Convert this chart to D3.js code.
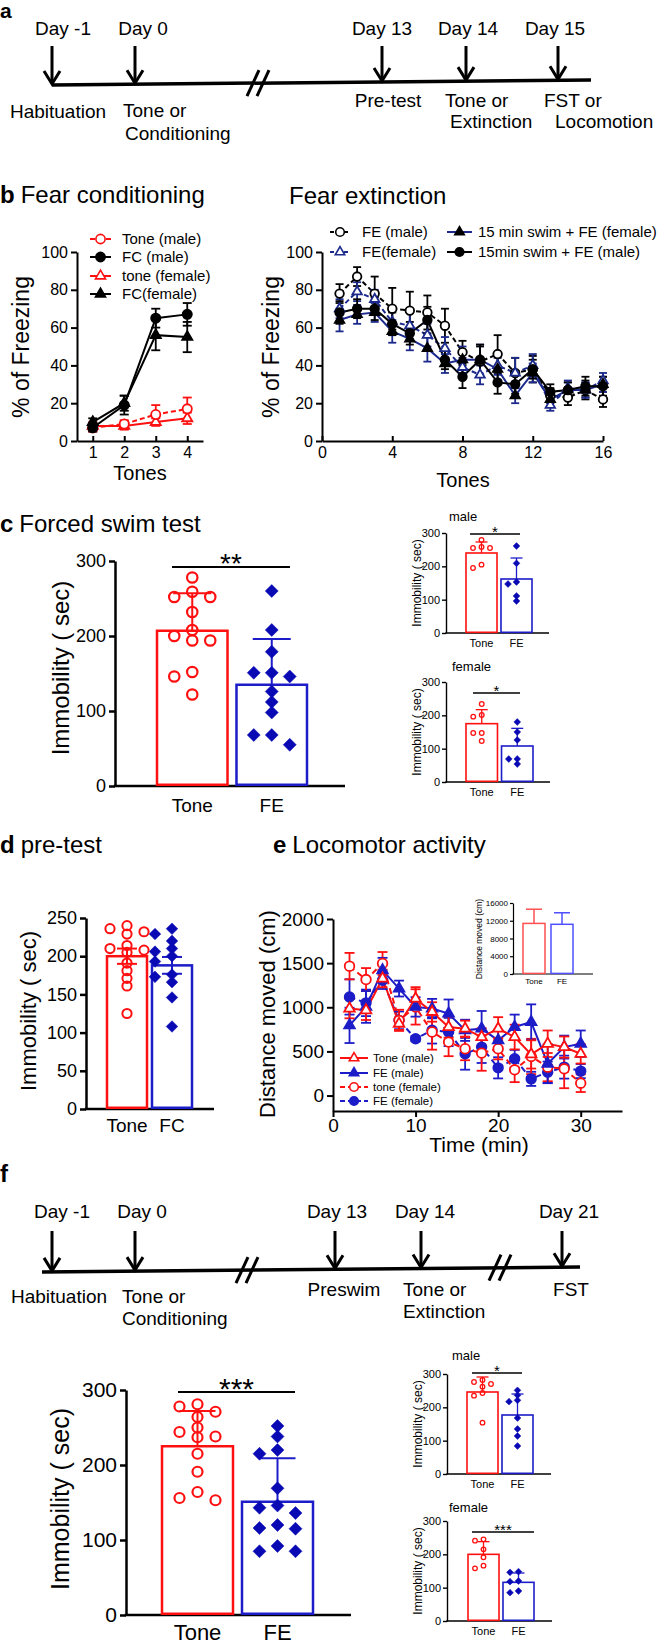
<!DOCTYPE html>
<html>
<head>
<meta charset="utf-8">
<script src="https://cdn.jsdelivr.net/npm/d3@7"></script>
<style>
body { margin: 0; background: #fff; }
svg { font-family: "Liberation Sans", Arial, Helvetica, sans-serif; }
</style>
</head>
<body>
<svg id="fig" width="664" height="1644"></svg>
<script>
// ---- data: timelines
var daysA = [-1, 0, 13, 14, 15];
var dayLabelsA = ["Day -1", "Day 0", "Day 13", "Day 14", "Day 15"];
var eventsA = [["Habituation"], ["Tone or", "Conditioning"], ["Pre-test"], ["Tone or", "Extinction"], ["FST or", "Locomotion"]];
var daysF = [-1, 0, 13, 14, 21];
var dayLabelsF = ["Day -1", "Day 0", "Day 13", "Day 14", "Day 21"];
var eventsF = [["Habituation"], ["Tone or", "Conditioning"], ["Preswim"], ["Tone or", "Extinction"], ["FST"]];

// ---- data: b fear conditioning
var fcTones = [1, 2, 3, 4];
var fcToneMale = [7, 9, 14, 17], fcToneMaleErr = [2, 2, 5, 6];
var fcFCMale = [7, 19, 65, 67], fcFCMaleErr = [2, 5, 5, 6];
var fcToneFemale = [8, 8, 10, 12], fcToneFemaleErr = [2, 2, 2, 3];
var fcFCFemale = [10, 20, 56, 55], fcFCFemaleErr = [2, 4, 8, 8];

// ---- data: b fear extinction
var feTones = [1, 2, 3, 4, 5, 6, 7, 8, 9, 10, 11, 12, 13, 14, 15, 16];
var feMale = [78, 87, 78, 70, 69, 68, 61, 47, 42, 46, 36, 38, 24, 23, 27, 22];
var feMaleErr = [5, 5, 9, 11, 10, 9, 9, 6, 8, 10, 8, 7, 4, 4, 5, 4];
var feFemale = [70, 79, 75, 63, 61, 56, 49, 39, 35, 40, 36, 40, 19, 28, 27, 32];
var feFemaleErr = [5, 5, 5, 7, 7, 6, 6, 5, 5, 5, 8, 6, 3, 4, 4, 4];
var swimFemale = [64, 67, 68, 58, 54, 49, 41, 43, 43, 38, 24, 36, 22, 27, 27, 30];
var swimFemaleErr = [6, 5, 5, 6, 6, 7, 5, 7, 8, 6, 4, 5, 4, 4, 4, 4];
var swimMale = [68, 70, 70, 62, 57, 64, 43, 34, 43, 31, 30, 38, 26, 27, 29, 29];
var swimMaleErr = [6, 5, 6, 6, 6, 7, 5, 6, 8, 6, 5, 5, 4, 4, 5, 5];

// ---- data: c forced swim test
var groupsFE = ["Tone", "FE"];
var cTone = [278, 252, 252, 259, 232, 208, 200, 194, 194, 152, 146, 122];
var cFE = [260, 208, 179, 151, 151, 146, 126, 112, 98, 68, 68, 55];
var cMean = [207, 135], cSD = [50, 61];
var cMaleTone = [279, 255, 258, 255, 205, 195];
var cMaleFE = [261, 209, 147, 153, 111, 96];
var cMaleMean = [240, 162], cMaleSD = [33, 63];
var cFemaleTone = [234, 201, 196, 147, 147, 123];
var cFemaleFE = [180, 150, 126, 69, 69, 54];
var cFemaleMean = [175, 108], cFemaleSD = [42, 53];

// ---- data: d pre-test
var groupsFC = ["Tone", "FC"];
var dTone = [240, 229, 232, 236, 210, 214, 208, 205, 191, 181, 171, 161, 125];
var dFC = [236, 229, 220, 206, 210, 200, 193, 176, 173, 166, 146, 108];
var dMean = [200, 188], dSEM = [10, 11];

// ---- data: e locomotor activity
var locoTime = [2, 4, 6, 8, 10, 12, 14, 16, 18, 20, 22, 24, 26, 28, 30];
var locoToneMale = [985, 966, 1326, 814, 1098, 947, 776, 758, 663, 758, 663, 466, 587, 549, 473];
var locoToneMaleErr = [110, 110, 100, 70, 130, 110, 120, 90, 100, 130, 140, 160, 150, 120, 110];
var locoFEMale = [795, 1004, 1420, 1212, 1004, 985, 928, 739, 758, 625, 777, 833, 360, 549, 587];
var locoFEMaleErr = [200, 180, 140, 90, 110, 110, 160, 120, 200, 120, 140, 200, 220, 130, 150];
var locoToneFemale = [1466, 1314, 1496, 852, 1004, 720, 606, 530, 481, 530, 292, 443, 322, 303, 140];
var locoToneFemaleErr = [150, 130, 130, 120, 200, 200, 160, 130, 200, 120, 140, 200, 160, 220, 100];
var locoFEFemale = [1117, 1050, 1307, 852, 644, 739, 720, 473, 549, 314, 417, 189, 265, 322, 277];
var locoFEFemaleErr = [200, 150, 100, 100, 30, 150, 160, 180, 180, 120, 100, 80, 120, 130, 80];
var locoTotal = [11400, 11200], locoTotalErr = [3200, 2600];

// ---- data: f FST after 21 days
var fTone = [281, 278, 271, 264, 250, 244, 237, 238, 215, 191, 164, 153, 156];
var fFE = [252, 238, 215, 220, 169, 143, 146, 136, 120, 115, 116, 85, 92, 85];
var fMean = [225, 151], fSD = [47, 58];
var fMaleTone = [282, 276, 270, 262, 243, 235, 154];
var fMaleFE = [251, 236, 217, 221, 168, 135, 114, 84];
var fMaleMean = [246, 177], fMaleSD = [45, 63];
var fFemaleTone = [241, 245, 215, 191, 158, 166];
var fFemaleFE = [146, 148, 120, 118, 85, 90];
var fFemaleMean = [200, 116], fFemaleSD = [38, 28];

var RED = "#ff1010", BLUE = "#1c1cc8", NAVY = "#1c2a8c", DBLUE = "#0a0ab4";
var svg = d3.select("#fig");
var fmtInt = d3.format("d");

// ---- helpers
function styleAxis(g, fs, sw) {
	g.attr("font-family", null).attr("font-size", fs);
	g.selectAll("path, line").attr("stroke", "#000").attr("stroke-width", sw || 2);
	g.selectAll("text").attr("fill", "#000");
}

function marker(g, type, x, y, size, color, fill, sw) {
	var p;
	if (type == "circle") {
		p = g.append("circle").attr("cx", x).attr("cy", y).attr("r", size);
	} else if (type == "triangle") {
		p = g.append("path").attr("d", d3.symbol().type(d3.symbolTriangle).size(size * size * 2.1)())
			.attr("transform", "translate(" + x + "," + y + ")");
	} else {
		p = g.append("path").attr("d", "M0," + (-size) + "L" + size + ",0L0," + size + "L" + (-size) + ",0Z")
			.attr("transform", "translate(" + x + "," + y + ")");
	}
	p.attr("fill", fill).attr("stroke", color).attr("stroke-width", sw);
	return p;
}

function panelTitle(x, y, letter, title, fs) {
	var t = svg.append("text").attr("x", x).attr("y", y).attr("font-size", fs || 24);
	t.append("tspan").attr("font-weight", "bold").text(letter);
	if (title) t.append("tspan").attr("dx", 6).text(title);
}

function vlabel(x, y, s, fs) {
	svg.append("text").attr("transform", "translate(" + x + "," + y + ") rotate(-90)")
		.attr("text-anchor", "middle").attr("dy", "0.35em").attr("font-size", fs).text(s);
}

function timeline(cfg, days, labels, events) {
	var g = svg.append("g").attr("font-size", 19);
	var x = d3.scaleLinear().domain(cfg.domain).range(cfg.range);
	var ly = d3.scaleLinear().domain([cfg.x0, cfg.x1]).range([cfg.yL, cfg.yR]);
	g.append("line").attr("x1", cfg.x0).attr("x2", cfg.x1).attr("y1", ly(cfg.x0)).attr("y2", ly(cfg.x1))
		.attr("stroke", "#000").attr("stroke-width", 3.5);
	cfg.breaks.forEach(function(bx) {
		[-5, 5].forEach(function(o) {
			g.append("line").attr("x1", bx + o - 6).attr("y1", ly(bx) + 13).attr("x2", bx + o + 6).attr("y2", ly(bx) - 13)
				.attr("stroke", "#000").attr("stroke-width", 3);
		});
	});
	days.forEach(function(d, i) {
		var ax = x(d), by = ly(ax) - 1;
		g.append("line").attr("x1", ax).attr("x2", ax).attr("y1", cfg.arrowTop).attr("y2", by)
			.attr("stroke", "#000").attr("stroke-width", 3);
		g.append("path").attr("d", "M" + (ax - 8) + "," + (by - 13) + "L" + ax + "," + by + "L" + (ax + 8) + "," + (by - 13))
			.attr("fill", "none").attr("stroke", "#000").attr("stroke-width", 3);
		g.append("text").attr("x", ax + cfg.dayDx[i]).attr("y", cfg.dayY).attr("text-anchor", "middle").text(labels[i]);
		events[i].forEach(function(s, j) {
			var L = cfg.ev[i][j];
			g.append("text").attr("x", ax + L[1]).attr("y", L[2]).attr("text-anchor", L[0]).text(s);
		});
	});
}

// scatter-dot layout: equal values spread over three columns
function swarm(vals, y, cx, step, minD) {
	var placed = [], out = [];
	var order = vals.map(function(v, i) { return i; }).sort(function(a, b) { return vals[b] - vals[a]; });
	var offs = [0, -1, 1];
	order.forEach(function(i) {
		var py = y(vals[i]), best = null, bestGap = -1;
		for (var j = 0; j < offs.length; j++) {
			var px = cx + offs[j] * step;
			var gap = d3.min(placed.filter(function(p) { return Math.abs(p.x - px) < step * 0.5; }),
				function(p) { return Math.abs(p.y - py); });
			if (gap === undefined) gap = 1e9;
			if (gap >= minD) { best = px; break; }
			if (gap > bestGap) { bestGap = gap; best = px; }
		}
		placed.push({x: best, y: py});
		out.push({x: best, y: py});
	});
	return out;
}

function barChart(cfg, groups, means, errs, pts) {
	var g = svg.append("g");
	var y = d3.scaleLinear().domain(cfg.yDomain).range(cfg.yRange);
	var x = d3.scaleBand().domain(groups).range(cfg.band).paddingInner(cfg.pad).paddingOuter(0);
	var y0 = cfg.yRange[0];
	var ay = g.append("g").attr("transform", "translate(" + cfg.ax + ",0)")
		.call(d3.axisLeft(y).tickValues(cfg.yTicks).tickFormat(fmtInt).tickSize(cfg.tick).tickSizeOuter(0).tickPadding(cfg.tickPad || 3));
	styleAxis(ay, cfg.tickFont, cfg.aw);
	g.append("line").attr("x1", cfg.ax - cfg.aw / 2).attr("x2", cfg.axEnd).attr("y1", y0).attr("y2", y0)
		.attr("stroke", "#000").attr("stroke-width", cfg.aw);
	var bw = x.bandwidth();
	groups.forEach(function(k, i) {
		var bx = x(k), top = y(means[i]), cx = bx + bw / 2;
		g.append("rect").attr("x", bx).attr("y", top).attr("width", bw).attr("height", y0 - top - cfg.aw / 2)
			.attr("fill", "none").attr("stroke", cfg.colors[i]).attr("stroke-width", cfg.bw);
		g.append("text").attr("x", cx).attr("y", y0 + cfg.labDy).attr("text-anchor", "middle")
			.attr("font-size", cfg.labFont).text(k);
		var lo = cfg.upOnly ? means[i] : means[i] - errs[i], hi = means[i] + errs[i];
		g.append("line").attr("x1", cx).attr("x2", cx).attr("y1", y(lo)).attr("y2", y(hi))
			.attr("stroke", cfg.colors[i]).attr("stroke-width", cfg.ew);
		var caps = cfg.upOnly ? [hi] : [lo, hi];
		caps.forEach(function(v) {
			g.append("line").attr("x1", cx - cfg.cap).attr("x2", cx + cfg.cap).attr("y1", y(v)).attr("y2", y(v))
				.attr("stroke", cfg.colors[i]).attr("stroke-width", cfg.ew);
		});
		if (pts) {
			swarm(pts[i], y, cx, cfg.step, cfg.minD).forEach(function(p) {
				if (i == 0) marker(g, "circle", p.x, p.y, cfg.r, RED, "none", cfg.psw);
				else marker(g, "diamond", p.x, p.y, cfg.dm, DBLUE, DBLUE, 0.5);
			});
		}
	});
	if (cfg.sig) {
		g.append("line").attr("x1", cfg.sig[0]).attr("x2", cfg.sig[1]).attr("y1", cfg.sig[2]).attr("y2", cfg.sig[2])
			.attr("stroke", "#000").attr("stroke-width", cfg.sigW);
		g.append("text").attr("x", (cfg.sig[0] + cfg.sig[1]) / 2).attr("y", cfg.sig[2] + cfg.sigFont * 0.22)
			.attr("text-anchor", "middle").attr("font-size", cfg.sigFont).text(cfg.sigText);
	}
	if (cfg.title) svg.append("text").attr("x", cfg.title[0]).attr("y", cfg.title[1]).attr("font-size", cfg.title[2]).text(cfg.title[3]);
	if (cfg.ylab) vlabel(cfg.ylab[0], cfg.ylab[1], cfg.ylab[3], cfg.ylab[2]);
}

function lineChart(cfg, xs, series) {
	var g = svg.append("g");
	var x = d3.scaleLinear().domain(cfg.xDomain).range(cfg.xRange);
	var y = d3.scaleLinear().domain(cfg.yDomain).range(cfg.yRange);
	var ay = g.append("g").attr("transform", "translate(" + cfg.xRange[0] + ",0)")
		.call(d3.axisLeft(y).tickValues(cfg.yTicks).tickFormat(fmtInt).tickSize(6).tickSizeOuter(0).tickPadding(3));
	styleAxis(ay, cfg.tickFont, 2);
	var ax = g.append("g").attr("transform", "translate(0," + cfg.yRange[0] + ")")
		.call(d3.axisBottom(x).tickValues(cfg.xTicks).tickFormat(fmtInt).tickSize(cfg.xTickSize).tickSizeOuter(0).tickPadding(cfg.xPad));
	styleAxis(ax, cfg.tickFont, 2);
	var line = d3.line().x(function(d, i) { return x(xs[i]); }).y(function(d) { return y(d); });
	series.forEach(function(s) {
		g.append("path").datum(s.values).attr("d", line).attr("fill", "none").attr("stroke", s.color)
			.attr("stroke-width", cfg.lw).attr("stroke-dasharray", s.dash ? cfg.dash : null);
	});
	series.forEach(function(s) {
		s.values.forEach(function(v, i) {
			var cx = x(xs[i]);
			g.append("line").attr("x1", cx).attr("x2", cx).attr("y1", y(v - s.err[i])).attr("y2", y(v + s.err[i]))
				.attr("stroke", s.color).attr("stroke-width", 1.8);
			[v - s.err[i], v + s.err[i]].forEach(function(e) {
				g.append("line").attr("x1", cx - cfg.cap).attr("x2", cx + cfg.cap).attr("y1", y(e)).attr("y2", y(e))
					.attr("stroke", s.color).attr("stroke-width", 1.8);
			});
		});
	});
	series.forEach(function(s) {
		var mc = s.mcolor || s.color;
		s.values.forEach(function(v, i) {
			marker(g, s.marker, x(xs[i]), y(v), cfg.ms, mc, s.open ? "#fff" : mc, 1.8);
		});
	});
	svg.append("text").attr("x", cfg.xlab[0]).attr("y", cfg.xlab[1]).attr("text-anchor", "middle")
		.attr("font-size", cfg.xlab[2]).text(cfg.xlab[3]);
	vlabel(cfg.ylab[0], cfg.ylab[1], cfg.ylab[3], cfg.ylab[2]);
}

function legend(items, fs, lw, dash, ms) {
	var g = svg.append("g");
	items.forEach(function(it) {
		var s = it.s, mc = s.mcolor || s.color;
		g.append("line").attr("x1", it.x1).attr("x2", it.x2).attr("y1", it.y).attr("y2", it.y)
			.attr("stroke", s.color).attr("stroke-width", lw).attr("stroke-dasharray", s.dash ? dash : null);
		marker(g, s.marker, (it.x1 + it.x2) / 2, it.y, ms, mc, s.open ? "#fff" : mc, 1.6);
		g.append("text").attr("x", it.tx).attr("y", it.y).attr("dy", "0.36em").attr("font-size", fs).text(s.name);
	});
}

// ---- a
panelTitle(0, 18, "a", null, 21);
timeline({
	domain: [-1, 0, 13, 14, 15], range: [52, 135, 382, 466, 558],
	x0: 52, x1: 591, yL: 85, yR: 80, breaks: [258], arrowTop: 46, dayY: 35,
	dayDx: [11, 8, 0, 2, -3],
	ev: [[["middle", 6, 118]], [["start", -12, 117], ["start", -10, 140]], [["middle", 6, 107]],
		[["start", -21, 107], ["start", -16, 128]], [["start", -14, 107], ["start", -3, 128]]]
}, daysA, dayLabelsA, eventsA);

// ---- b
panelTitle(0, 203, "b", "Fear conditioning");
svg.append("text").attr("x", 289).attr("y", 204).attr("font-size", 24).text("Fear extinction");

var fcSeries = [
	{name: "Tone (male)", values: fcToneMale, err: fcToneMaleErr, color: RED, dash: true, marker: "circle", open: true},
	{name: "FC (male)", values: fcFCMale, err: fcFCMaleErr, color: "#000", marker: "circle"},
	{name: "tone (female)", values: fcToneFemale, err: fcToneFemaleErr, color: RED, marker: "triangle", open: true},
	{name: "FC(female)", values: fcFCFemale, err: fcFCFemaleErr, color: "#000", marker: "triangle"}
];
lineChart({
	xDomain: [0.5, 4.5], xRange: [77, 203], yDomain: [0, 100], yRange: [441, 252],
	yTicks: [0, 20, 40, 60, 80, 100], xTicks: fcTones, xTickSize: -5, xPad: 6, tickFont: 16,
	lw: 2, dash: "5,3", cap: 4.5, ms: 4.6,
	xlab: [140, 480, 20, "Tones"], ylab: [21, 347, 23, "% of Freezing"]
}, fcTones, [fcSeries[2], fcSeries[0], fcSeries[3], fcSeries[1]]);
legend(fcSeries.map(function(s, i) { return {s: s, x1: 90, x2: 111, tx: 122, y: [239, 257, 276, 294][i]}; }), 15, 2, "5,3", 4.6);

var feSeries = [
	{name: "FE (male)", values: feMale, err: feMaleErr, color: "#000", dash: true, marker: "circle", open: true},
	{name: "FE(female)", values: feFemale, err: feFemaleErr, color: NAVY, dash: true, marker: "triangle", open: true},
	{name: "15 min swim + FE (female)", values: swimFemale, err: swimFemaleErr, color: NAVY, mcolor: "#000", marker: "triangle"},
	{name: "15min swim + FE (male)", values: swimMale, err: swimMaleErr, color: "#000", marker: "circle"}
];
lineChart({
	xDomain: [0, 16], xRange: [322, 603], yDomain: [0, 100], yRange: [441, 252],
	yTicks: [0, 20, 40, 60, 80, 100], xTicks: [0, 4, 8, 12, 16], xTickSize: -5, xPad: 6, tickFont: 16,
	lw: 2, dash: "5,3", cap: 4, ms: 4.3,
	xlab: [463, 487, 20, "Tones"], ylab: [271, 347, 23, "% of Freezing"]
}, feTones, feSeries);
legend([
	{s: feSeries[0], x1: 330, x2: 350, tx: 362, y: 232},
	{s: feSeries[1], x1: 330, x2: 350, tx: 362, y: 252},
	{s: feSeries[2], x1: 447, x2: 472, tx: 478, y: 232},
	{s: feSeries[3], x1: 447, x2: 472, tx: 478, y: 252}
], 15, 2, "4,3", 4.3);

// ---- c
panelTitle(0, 532, "c", "Forced swim test");
barChart({
	ax: 115, axEnd: 345, yDomain: [0, 300], yRange: [786, 561], yTicks: [0, 100, 200, 300],
	band: [157, 307], pad: 0.113, tick: 6, tickFont: 18, aw: 2.5, bw: 2.5, ew: 2, cap: 19, upOnly: true,
	labDy: 26, labFont: 19, colors: [RED, BLUE], step: 18, minD: 10, r: 5.2, psw: 2.2, dm: 6.5,
	sig: [172, 290, 567], sigW: 2.2, sigFont: 28, sigText: "**",
	ylab: [61, 668, 24, "Immobility ( sec)"]
}, groupsFE, cMean, cSD, [cTone, cFE]);

var smallCfg = {
	yDomain: [0, 300], yTicks: [0, 100, 200, 300], tick: 4, tickFont: 11, tickPad: 2, aw: 1.4, bw: 1.6, ew: 1.3, cap: 6,
	upOnly: true, labDy: 14, labFont: 11, colors: [RED, BLUE], step: 8.5, minD: 5, r: 2.3, psw: 1.3, dm: 3.4,
	sigW: 1.3, sigFont: 15
};
barChart(Object.assign({}, smallCfg, {
	ax: 446, axEnd: 549, yRange: [633, 533], band: [466, 532], pad: 0.114,
	sig: [470, 520, 534], sigText: "*", title: [449, 521, 13, "male"], ylab: [417, 583, 12, "Immobility ( sec)"]
}), groupsFE, cMaleMean, cMaleSD, [cMaleTone, cMaleFE]);
barChart(Object.assign({}, smallCfg, {
	ax: 446, axEnd: 550, yRange: [782, 682], band: [466, 533], pad: 0.114,
	sig: [473, 520, 693], sigText: "*", title: [452, 671, 13, "female"], ylab: [417, 732, 12, "Immobility ( sec)"]
}), groupsFE, cFemaleMean, cFemaleSD, [cFemaleTone, cFemaleFE]);

// ---- d
panelTitle(0, 853, "d", "pre-test");
barChart({
	ax: 86, axEnd: 214, yDomain: [0, 250], yRange: [1109, 918], yTicks: [0, 50, 100, 150, 200, 250],
	band: [107, 192], pad: 0.111, tick: 6, tickFont: 18, aw: 2.5, bw: 2.5, ew: 2, cap: 10,
	labDy: 23, labFont: 19, colors: [RED, BLUE], step: 17, minD: 6.5, r: 4.6, psw: 2, dm: 5.8,
	ylab: [28, 1011, 22, "Immobility ( sec)"]
}, groupsFC, dMean, dSEM, [dTone, dFC]);

// ---- e
panelTitle(273, 853, "e", "Locomotor activity");
var locoSeries = [
	{name: "Tone (male)", values: locoToneMale, err: locoToneMaleErr, color: RED, marker: "triangle", open: true},
	{name: "FE (male)", values: locoFEMale, err: locoFEMaleErr, color: BLUE, marker: "triangle"},
	{name: "tone (female)", values: locoToneFemale, err: locoToneFemaleErr, color: RED, dash: true, marker: "circle", open: true},
	{name: "FE (female)", values: locoFEFemale, err: locoFEFemaleErr, color: BLUE, dash: true, marker: "circle"}
];
lineChart({
	xDomain: [0, 35], xRange: [333, 622], yDomain: [-175, 2000], yRange: [1111, 919],
	yTicks: [0, 500, 1000, 1500, 2000], xTicks: [0, 10, 20, 30], xTickSize: 6, xPad: 2, tickFont: 19,
	lw: 2, dash: "6,4", cap: 5, ms: 4.8,
	xlab: [479, 1152, 21, "Time (min)"], ylab: [267, 1014, 22, "Distance moved (cm)"]
}, locoTime, [locoSeries[3], locoSeries[2], locoSeries[1], locoSeries[0]]);
legend(locoSeries.map(function(s, i) { return {s: s, x1: 340, x2: 368, tx: 373, y: [1058, 1073, 1087, 1101][i]}; }), 11.5, 2, "5,3", 4.3);
barChart({
	ax: 513, axEnd: 593, yDomain: [0, 16000], yRange: [974, 903], yTicks: [0, 4000, 8000, 12000, 16000],
	band: [523, 573], pad: 0.214, tick: 3, tickFont: 8, tickPad: 2, aw: 1.2, bw: 1.5, ew: 1.5, cap: 8,
	labDy: 10, labFont: 8, colors: ["#ff5050", "#5050ff"], upOnly: true,
	ylab: [479, 939, 8.5, "Distance moved (cm)"]
}, groupsFE, locoTotal, locoTotalErr, null);

// ---- f
panelTitle(0, 1182, "f");
timeline({
	domain: [-1, 0, 13, 14, 21], range: [52, 135, 335, 421, 562],
	x0: 42, x1: 580, yL: 1272, yR: 1267, breaks: [247, 500], arrowTop: 1231, dayY: 1218,
	dayDx: [10, 7, 2, 4, 7],
	ev: [[["middle", 7, 1303]], [["start", -13, 1303], ["start", -13, 1325]], [["middle", 9, 1296]],
		[["start", -18, 1296], ["start", -18, 1318]], [["middle", 9, 1296]]]
}, daysF, dayLabelsF, eventsF);
barChart({
	ax: 126, axEnd: 351, yDomain: [0, 300], yRange: [1615, 1390], yTicks: [0, 100, 200, 300],
	band: [162, 313], pad: 0.1125, tick: 6, tickFont: 21, aw: 2.5, bw: 2.5, ew: 2, cap: 18, upOnly: true,
	labDy: 25, labFont: 22, colors: [RED, BLUE], step: 18, minD: 9.5, r: 5, psw: 2.2, dm: 6.5,
	sig: [178, 295, 1392], sigW: 2.2, sigFont: 30, sigText: "***",
	ylab: [60, 1499, 25, "Immobility ( sec)"]
}, groupsFE, fMean, fSD, [fTone, fFE]);
barChart(Object.assign({}, smallCfg, {
	ax: 447, axEnd: 551, yRange: [1474, 1374], band: [467, 533], pad: 0.114,
	sig: [472, 522, 1373], sigText: "*", title: [452, 1360, 13, "male"], ylab: [418, 1424, 12, "Immobility ( sec)"]
}), groupsFE, fMaleMean, fMaleSD, [fMaleTone, fMaleFE]);
barChart(Object.assign({}, smallCfg, {
	ax: 447, axEnd: 552, yRange: [1621, 1521], band: [468, 534], pad: 0.114,
	sig: [472, 534, 1532], sigText: "***", title: [449, 1512, 13, "female"], ylab: [418, 1571, 12, "Immobility ( sec)"]
}), groupsFE, fFemaleMean, fFemaleSD, [fFemaleTone, fFemaleFE]);
</script>
</body>
</html>
